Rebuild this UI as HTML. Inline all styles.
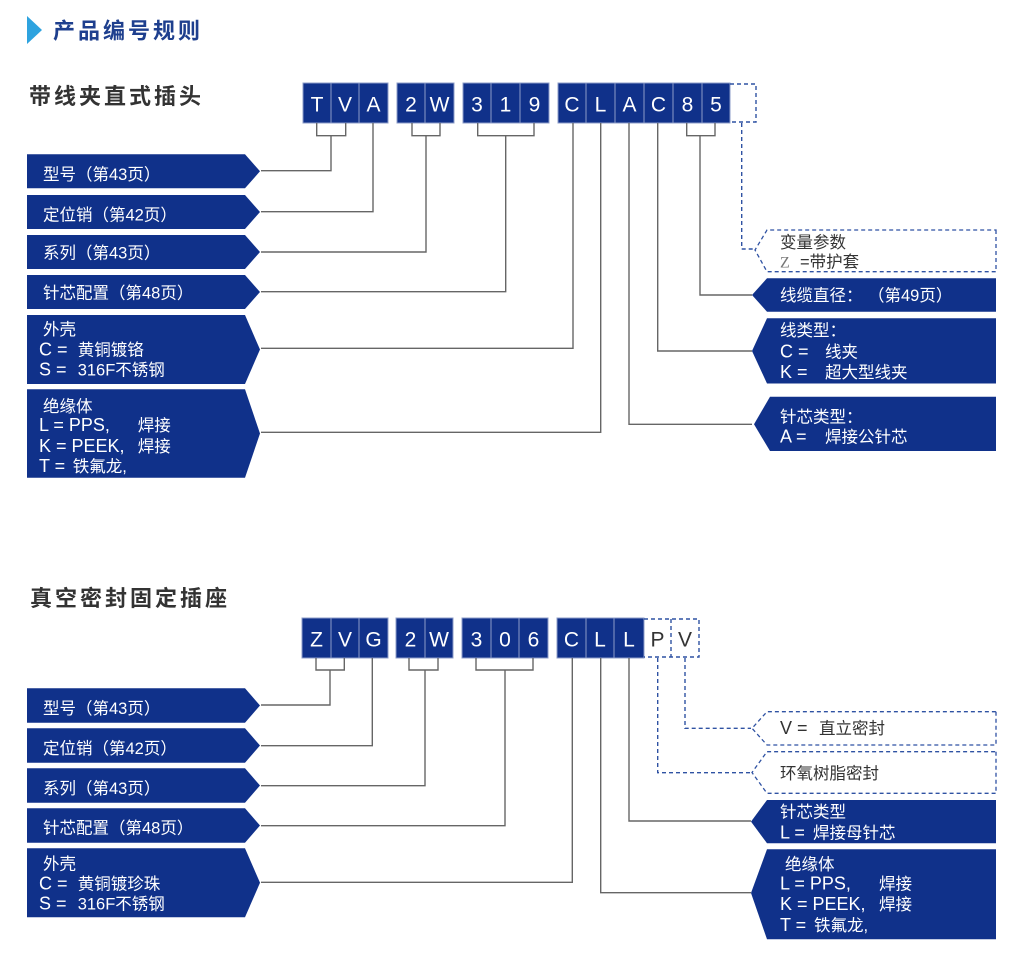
<!DOCTYPE html>
<html><head><meta charset="utf-8"><style>
html,body{margin:0;padding:0;background:#fff;}
svg{display:block;}
text{font-family:"Liberation Sans","Noto Sans CJK SC",sans-serif;white-space:pre;}
.w{fill:#fff;font-size:16.5px;}
.d{fill:#333;font-size:16.5px;}
.lt{font-size:18px;}
.bx{fill:#fff;font-size:21px;text-anchor:middle;}
.c{fill:#10318a;stroke:#8c9cc8;stroke-width:1;}
.ln{fill:none;stroke:#666;stroke-width:1.4;}
.dl{fill:none;stroke:#2f52a3;stroke-width:1.4;stroke-dasharray:4 3;}
.lab{fill:#10318a;}
.dlab{fill:#fff;stroke:#2f52a3;stroke-width:1.3;stroke-dasharray:4 3;}
.h{font-size:22px;font-weight:bold;letter-spacing:3px;}
</style></head><body>
<svg width="1024" height="969" viewBox="0 0 1024 969" xmlns="http://www.w3.org/2000/svg">
<!-- header -->
<polygon points="27,16 42,30 27,44" fill="#2ea3df"/>
<text class="h" x="53" y="38.5" style="fill:#1e3f8e;">产品编号规则</text>

<!-- Section 1 title -->
<text class="h" x="29" y="104" style="fill:#333;">带线夹直式插头</text>

<!-- Section 1 code boxes -->
<g>
<rect class="c" x="303" y="83" width="28" height="40"/><rect class="c" x="331" y="83" width="28" height="40"/><rect class="c" x="359" y="83" width="29" height="40"/>
<rect class="c" x="397" y="83" width="28" height="40"/><rect class="c" x="425" y="83" width="29" height="40"/>
<rect class="c" x="463" y="83" width="28" height="40"/><rect class="c" x="491" y="83" width="29" height="40"/><rect class="c" x="520" y="83" width="29" height="40"/>
<rect class="c" x="558" y="83" width="28" height="40"/><rect class="c" x="586" y="83" width="29" height="40"/><rect class="c" x="615" y="83" width="29" height="40"/><rect class="c" x="644" y="83" width="29" height="40"/><rect class="c" x="673" y="83" width="29" height="40"/><rect class="c" x="702" y="83" width="28" height="40"/>
<text class="bx" x="317" y="111.5">T</text><text class="bx" x="345" y="111.5">V</text><text class="bx" x="373.5" y="111.5">A</text>
<text class="bx" x="411" y="111.5">2</text><text class="bx" x="439.5" y="111.5">W</text>
<text class="bx" x="477" y="111.5">3</text><text class="bx" x="505.5" y="111.5">1</text><text class="bx" x="534.5" y="111.5">9</text>
<text class="bx" x="572" y="111.5">C</text><text class="bx" x="600.5" y="111.5">L</text><text class="bx" x="629.5" y="111.5">A</text><text class="bx" x="658.5" y="111.5">C</text><text class="bx" x="687.5" y="111.5">8</text><text class="bx" x="716" y="111.5">5</text>
<path class="dl" d="M730,84 H756 V122 H730"/>
</g>

<!-- Section 1 connectors -->
<path class="ln" d="M316.7,123 V135.7 H345.7 V123 M331,135.7 V170.7 H261"/>
<path class="ln" d="M373,123 V211.7 H261"/>
<path class="ln" d="M412,123 V135.7 H440 V123 M426,135.7 V252 H261"/>
<path class="ln" d="M477.7,123 V135.7 H534 V123 M505.7,135.7 V291.7 H261"/>
<path class="ln" d="M573,123 V348.3 H261"/>
<path class="ln" d="M600.7,123 V432.3 H261"/>
<path class="ln" d="M629,123 V424.3 H752"/>
<path class="ln" d="M657.7,123 V351 H752"/>
<path class="ln" d="M686.7,123 V135.7 H715 V123 M700,135.7 V295 H752"/>
<path class="dl" d="M741.7,123 V249 H755"/>

<!-- Section 1 left labels -->
<path class="lab" d="M27,154.3 H245 L260,171.3 L245,188.3 H27 Z"/>
<path class="lab" d="M27,195 H245 L260,212 L245,229 H27 Z"/>
<path class="lab" d="M27,235 H245 L260,252 L245,269 H27 Z"/>
<path class="lab" d="M27,275 H245 L260,292 L245,309 H27 Z"/>
<path class="lab" d="M27,315 H245 L260,349.5 L245,384 H27 Z"/>
<path class="lab" d="M27,389.3 H245 L260,433.5 L245,477.7 H27 Z"/>
<text class="w" x="43" y="180">型号（第43页）</text>
<text class="w" x="43" y="220.5">定位销（第42页）</text>
<text class="w" x="43" y="258.5">系列（第43页）</text>
<text class="w" x="43" y="298.5">针芯配置（第48页）</text>
<text class="w" x="43" y="335">外壳</text>
<text class="w lt" x="39" y="355.5">C =</text><text class="w" x="77.7" y="355.5">黄铜镀铬</text>
<text class="w lt" x="39" y="375.5">S =</text><text class="w" x="77.7" y="375.5">316F不锈钢</text>
<text class="w" x="43" y="412">绝缘体</text>
<text class="w lt" x="39" y="431">L = PPS,</text><text class="w" x="137.7" y="431">焊接</text>
<text class="w lt" x="39" y="452">K = PEEK,</text><text class="w" x="137.7" y="452">焊接</text>
<text class="w lt" x="39" y="472">T =</text><text class="w" x="72.7" y="472">铁氟龙,</text>

<!-- Section 1 right labels -->
<path class="dlab" d="M996,230 V271.7 H767 L755,250 L767,230 Z"/>
<path class="lab" d="M996,278.3 V311.7 H767 L752,295 L767,278.3 Z"/>
<path class="lab" d="M996,318.3 V383.5 H767 L752,351 L767,318.3 Z"/>
<path class="lab" d="M996,396.7 V451 H770 L754,424.3 L770,396.7 Z"/>
<text class="d" x="780" y="248">变量参数</text>
<text x="780" y="267.5" style="font-family:'Liberation Serif',serif;font-size:16px;fill:#777">Z</text><text class="d" x="800" y="267.5">=带护套</text>
<text class="w" x="780" y="301">线缆直径：</text><text class="w" x="868" y="301">（第49页）</text>
<text class="w" x="780" y="336">线类型：</text>
<text class="w lt" x="780" y="357.5">C =</text><text class="w" x="825" y="357.5">线夹</text>
<text class="w lt" x="780" y="378">K =</text><text class="w" x="825" y="378">超大型线夹</text>
<text class="w" x="780" y="422.5">针芯类型：</text>
<text class="w lt" x="780" y="442.5">A =</text><text class="w" x="825" y="442.5">焊接公针芯</text>

<!-- Section 2 title -->
<text class="h" x="30" y="606" style="fill:#333;">真空密封固定插座</text>

<!-- Section 2 code boxes -->
<g>
<rect class="c" x="302" y="618" width="29" height="40"/><rect class="c" x="331" y="618" width="28" height="40"/><rect class="c" x="359" y="618" width="29" height="40"/>
<rect class="c" x="396" y="618" width="29" height="40"/><rect class="c" x="425" y="618" width="28" height="40"/>
<rect class="c" x="462" y="618" width="29" height="40"/><rect class="c" x="491" y="618" width="28" height="40"/><rect class="c" x="519" y="618" width="29" height="40"/>
<rect class="c" x="557" y="618" width="29" height="40"/><rect class="c" x="586" y="618" width="28" height="40"/><rect class="c" x="614" y="618" width="30" height="40"/>
<text class="bx" x="316.5" y="646.5">Z</text><text class="bx" x="345" y="646.5">V</text><text class="bx" x="373.5" y="646.5">G</text>
<text class="bx" x="410.5" y="646.5">2</text><text class="bx" x="439" y="646.5">W</text>
<text class="bx" x="476.5" y="646.5">3</text><text class="bx" x="505" y="646.5">0</text><text class="bx" x="533.5" y="646.5">6</text>
<text class="bx" x="571.5" y="646.5">C</text><text class="bx" x="600" y="646.5">L</text><text class="bx" x="629" y="646.5">L</text>
<path class="dl" d="M644,619 H699 V657 H644 M671,619 V657"/>
<text class="bx" x="657.5" y="646.5" style="fill:#333">P</text><text class="bx" x="685" y="646.5" style="fill:#333">V</text>
</g>

<!-- Section 2 connectors -->
<path class="ln" d="M316,658 V670 H344.3 V658 M330,670 V705 H261"/>
<path class="ln" d="M372.3,658 V745.7 H261"/>
<path class="ln" d="M409,658 V670 H438 V658 M425,670 V785.7 H261"/>
<path class="ln" d="M476,658 V670 H533 V658 M505,670 V825.7 H261"/>
<path class="ln" d="M572.3,658 V882.3 H261"/>
<path class="ln" d="M600.7,658 V892.7 H751"/>
<path class="ln" d="M629,658 V821 H751"/>
<path class="dl" d="M657.7,658 V772.7 H751"/>
<path class="dl" d="M685,658 V728.3 H751"/>

<!-- Section 2 left labels -->
<path class="lab" d="M27,688.3 H245 L260,705.5 L245,722.7 H27 Z"/>
<path class="lab" d="M27,728.3 H245 L260,745.5 L245,762.7 H27 Z"/>
<path class="lab" d="M27,768.3 H245 L260,785.5 L245,802.7 H27 Z"/>
<path class="lab" d="M27,808.3 H245 L260,825.5 L245,842.7 H27 Z"/>
<path class="lab" d="M27,848.3 H245 L260,882.8 L245,917.3 H27 Z"/>
<text class="w" x="43" y="714">型号（第43页）</text>
<text class="w" x="43" y="754">定位销（第42页）</text>
<text class="w" x="43" y="794">系列（第43页）</text>
<text class="w" x="43" y="833.5">针芯配置（第48页）</text>
<text class="w" x="43" y="869.5">外壳</text>
<text class="w lt" x="39" y="889.5">C =</text><text class="w" x="77.7" y="889.5">黄铜镀珍珠</text>
<text class="w lt" x="39" y="909.5">S =</text><text class="w" x="77.7" y="909.5">316F不锈钢</text>

<!-- Section 2 right labels -->
<path class="dlab" d="M996,711.7 V745 H767 L752,728.3 L767,711.7 Z"/>
<path class="dlab" d="M996,751.7 V793.3 H767 L752,772.5 L767,751.7 Z"/>
<path class="lab" d="M996,800 V843.3 H767 L751,821.6 L767,800 Z"/>
<path class="lab" d="M996,849.3 V939.3 H767 L751,893 L767,849.3 Z"/>
<text class="d lt" x="780" y="734">V =</text><text class="d" x="819" y="734">直立密封</text>
<text class="d" x="780" y="779">环氧树脂密封</text>
<text class="w" x="780" y="817.5">针芯类型</text>
<text class="w lt" x="780" y="838.5">L =</text><text class="w" x="813" y="838.5">焊接母针芯</text>
<text class="w" x="785" y="870">绝缘体</text>
<text class="w lt" x="780" y="889.5">L = PPS,</text><text class="w" x="879" y="889.5">焊接</text>
<text class="w lt" x="780" y="910">K = PEEK,</text><text class="w" x="879" y="910">焊接</text>
<text class="w lt" x="780" y="931">T =</text><text class="w" x="814" y="931">铁氟龙,</text>
</svg>
</body></html>
